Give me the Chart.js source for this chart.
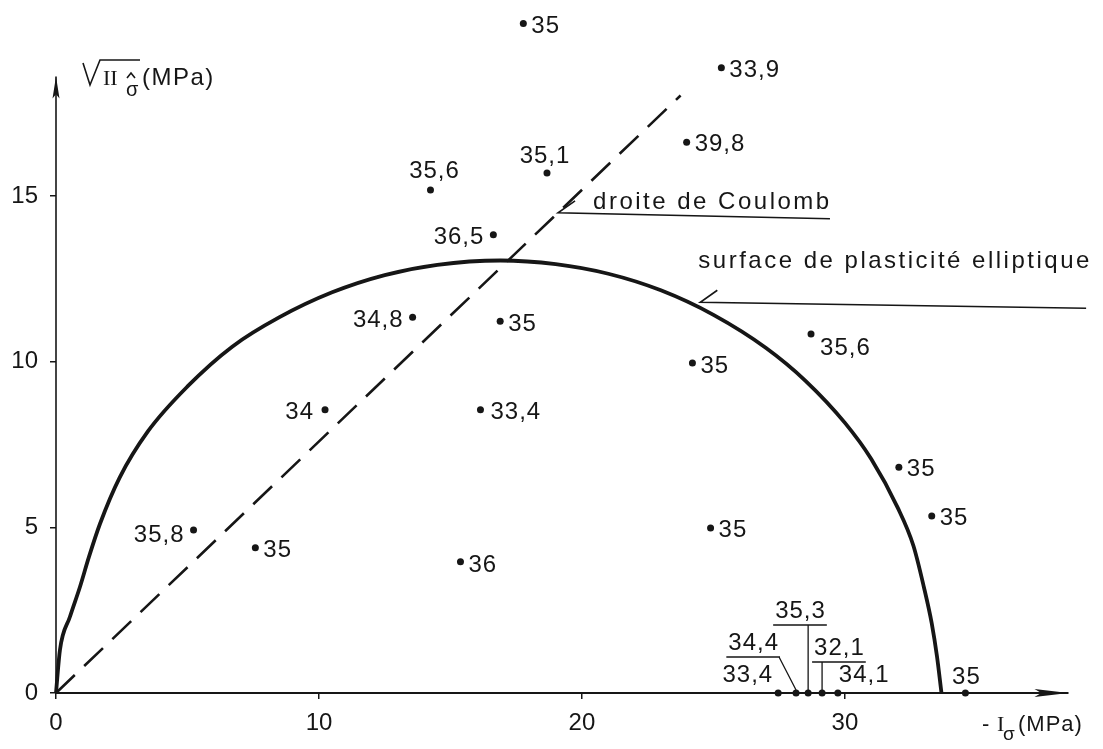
<!DOCTYPE html>
<html>
<head>
<meta charset="utf-8">
<script src="https://cdn.jsdelivr.net/npm/chart.js@4.4.1/dist/chart.umd.min.js"></script>
<style>
  html, body { margin: 0; padding: 0; background: #fff; }
  #wrap { width: 1103px; height: 749px; position: relative; }
</style>
</head>
<body>
<div id="wrap"><canvas id="chart"></canvas></div>
<script>
// essais : position (-I, sqrt II) en MPa et angle de frottement noté à côté
const testI = [17.77, 25.3, 23.98, 18.67, 14.24, 16.63, 13.56, 16.89, 10.23, 16.14, 24.2, 28.71,
               32.05, 33.3, 24.89, 15.38, 7.58, 5.23, 27.46, 28.14, 28.6, 29.13, 29.73, 34.58];
const testII = [20.2, 18.87, 16.62, 15.69, 15.18, 13.83, 11.34, 11.22, 8.55, 8.55, 9.96, 10.83,
                6.81, 5.34, 4.98, 3.96, 4.38, 4.92, 0, 0, 0, 0, 0, 0];
const testPhi = ['35', '33,9', '39,8', '35,1', '35,6', '36,5', '34,8', '35', '34', '33,4', '35', '35,6',
                 '35', '35', '35', '36', '35', '35,8', '33,4', '34,4', '35,3', '32,1', '34,1', '35'];

// surface de plasticité elliptique
const ellipseI = [0, 0.15, 0.53, 0.91, 1.25, 1.67, 2.42, 3.5, 5, 6.7, 8.5, 10.5, 12.5, 14.5, 16.9,
                  19, 21, 23, 25, 27, 28.5, 30, 31, 32, 32.6, 33.0, 33.3, 33.5, 33.67];
const ellipseII = [0, 1.3, 2.3, 3.2, 4.1, 5.1, 6.5, 7.9, 9.25, 10.45, 11.34, 12.09, 12.61, 12.92, 13.05,
                   12.94, 12.65, 12.15, 11.41, 10.41, 9.42, 8.15, 7.06, 5.6, 4.45, 3.2, 2.1, 1.1, 0];

// droite de Coulomb
const coulombI = [0, 23.75];
const coulombII = [0, 18.03];

// axes and ticks
const axisIEnd = 38.5;
const axisIIEnd = 18.6;
const xTicks = [0, 10, 20, 30];
const yTicks = [0, 5, 10, 15];

// notes with arrows
const noteText = ['droite de Coulomb', 'surface de plasticité elliptique'];
const noteTipI = [19.09, 24.5];
const noteTipII = [14.49, 11.79];
const noteEndI = [29.43, 39.17];
const noteEndII = [14.31, 11.61];

// label placement next to each point: dx, dy (px), align, leader line
const labelPlace = [
    [8, 9, 'left'], [8, 9, 'left'], [8, 9, 'left'], [-2, -10, 'center'], [4, -12, 'center'],
    [-9, 9, 'right'], [-9, 10, 'right'], [8, 10, 'left'], [-11, 9, 'right'], [10, 9, 'left'],
    [8, 10, 'left'], [9, 21, 'left'], [8, 9, 'left'], [8, 9, 'left'], [8, 9, 'left'],
    [8, 10, 'left'], [8, 9, 'left'], [-9, 12, 'right'],
    [-5, -11, 'right'], [-17, -43, 'right', true], [-33, -75, 'left', true], [-8, -38, 'left', true],
    [1, -11, 'left'], [1, -9, 'center']
];
const noteDx = [35, -2];
const noteDy = [-4, -34];

const ink = '#161616';
const sans = '"Liberation Sans", Arial, sans-serif';
const serif = '"Liberation Serif", "Times New Roman", serif';

const toXY = (xs, ys) => xs.map((x, i) => ({ x, y: ys[i] }));

const annotate = {
    id: 'annotate',
    afterDatasetsDraw(chart) {
        const ctx = chart.ctx;
        const xs = chart.scales.x;
        const ys = chart.scales.y;
        const area = chart.chartArea;
        ctx.save();
        ctx.fillStyle = ink;
        ctx.strokeStyle = ink;

        // arrow heads on axes
        chart.data.datasets.forEach((ds, di) => {
            if (!ds.arrowHead) return;
            const pts = chart.getDatasetMeta(di).data;
            const a = pts[pts.length - 2], b = pts[pts.length - 1];
            const ang = Math.atan2(b.y - a.y, b.x - a.x);
            const len = ds.arrowHead[0], half = ds.arrowHead[1];
            ctx.save();
            ctx.translate(b.x, b.y);
            ctx.rotate(ang);
            ctx.beginPath();
            ctx.moveTo(0, 0);
            ctx.lineTo(-len, -half);
            ctx.lineTo(-len * 0.8, 0);
            ctx.lineTo(-len, half);
            ctx.closePath();
            ctx.fill();
            ctx.restore();
        });

        // point labels
        ctx.font = '24px ' + sans;
        ctx.letterSpacing = '1px';
        ctx.textBaseline = 'alphabetic';
        const meta = chart.getDatasetMeta(chart.data.datasets.length - 1);
        meta.data.forEach((p, i) => {
            const [dx, dy, align, lead] = labelPlace[i];
            ctx.textAlign = align;
            const tx = p.x + dx, ty = p.y + dy;
            ctx.fillText(testPhi[i], tx, ty);
            if (lead) {
                const w = ctx.measureText(testPhi[i]).width;
                const left = align === 'right' ? tx - w : (align === 'center' ? tx - w / 2 : tx);
                const uy = ty + 7;
                const sx = Math.min(Math.max(p.x, left), left + w);
                ctx.lineWidth = 1.3;
                ctx.beginPath();
                ctx.moveTo(left - 2, uy);
                ctx.lineTo(left + w + 1, uy);
                ctx.moveTo(sx, uy);
                ctx.lineTo(p.x, p.y - 3);
                ctx.stroke();
            }
        });

        // notes
        noteText.forEach((txt, i) => {
            const tx = xs.getPixelForValue(noteTipI[i]);
            const ty = ys.getPixelForValue(noteTipII[i]);
            const ex = xs.getPixelForValue(noteEndI[i]);
            const ey = ys.getPixelForValue(noteEndII[i]);
            ctx.lineWidth = 1.6;
            ctx.beginPath();
            ctx.moveTo(ex, ey);
            ctx.lineTo(tx, ty);
            ctx.lineTo(tx + 17, ty - 12);
            ctx.stroke();
            ctx.font = '24px ' + sans;
            ctx.letterSpacing = '2.5px';
            ctx.textAlign = 'left';
            ctx.fillText(txt, tx + noteDx[i], ty + noteDy[i]);
        });

        // y axis title: sqrt(II sigma^) (MPa)
        const L = area.left;
        ctx.letterSpacing = '0px';
        ctx.lineWidth = 1.6;
        ctx.beginPath();
        ctx.moveTo(L + 27, 63);
        ctx.lineTo(L + 34, 85);
        ctx.lineTo(L + 44, 60);
        ctx.lineTo(L + 84, 60);
        ctx.stroke();
        ctx.font = '22px ' + serif;
        ctx.fillText('II', L + 47, 85);
        ctx.font = '20px ' + sans;
        ctx.fillText('σ', L + 70, 96);
        ctx.beginPath();
        ctx.moveTo(L + 71, 78);
        ctx.lineTo(L + 75, 73);
        ctx.lineTo(L + 79, 78);
        ctx.stroke();
        ctx.font = '24px ' + sans;
        ctx.letterSpacing = '1.5px';
        ctx.fillText('(MPa)', L + 86, 85);

        // x axis title: - I sigma (MPa)
        ctx.letterSpacing = '0px';
        ctx.font = '22px ' + sans;
        ctx.fillText('-', 982, 731);
        ctx.font = '22px ' + serif;
        ctx.fillText('I', 997, 731);
        ctx.font = '19px ' + sans;
        ctx.fillText('σ', 1003, 740);
        ctx.font = '22px ' + sans;
        ctx.letterSpacing = '1px';
        ctx.fillText('(MPa)', 1018, 731);
        ctx.restore();
    }
};

const ctx = document.getElementById('chart').getContext('2d');
new Chart(ctx, {
    type: 'scatter',
    data: {
        datasets: [
            {
                type: 'line', data: toXY([0, axisIEnd], [0, 0]),
                borderColor: ink, borderWidth: 2, pointRadius: 0, clip: false, arrowHead: [34, 4]
            },
            {
                type: 'line', data: toXY([0, 0], [0, axisIIEnd]),
                borderColor: ink, borderWidth: 1.6, pointRadius: 0, clip: false, arrowHead: [22, 3.5]
            },
            {
                type: 'line', data: toXY(ellipseI, ellipseII),
                borderColor: ink, borderWidth: 3.8, pointRadius: 0, cubicInterpolationMode: 'monotone', clip: false
            },
            {
                type: 'line', data: toXY(coulombI, coulombII),
                borderColor: ink, borderWidth: 2.6, borderDash: [26, 13], pointRadius: 0, clip: false
            },
            {
                data: toXY(testI, testII),
                backgroundColor: ink, borderColor: ink, borderWidth: 0, pointRadius: 3.5, clip: false
            }
        ]
    },
    options: {
        responsive: true,
        maintainAspectRatio: false,
        animation: false,
        layout: { padding: 0 },
        plugins: {
            legend: { display: false },
            tooltip: { enabled: false }
        },
        scales: {
            x: {
                type: 'linear',
                min: 0,
                max: 39.66,
                afterFit: (s) => { s.height = 56; s.paddingLeft = 0; s.paddingRight = 0; },
                afterBuildTicks: (s) => { s.ticks = xTicks.map(v => ({ value: v })); },
                grid: { drawOnChartArea: false, drawTicks: true, tickLength: 6, color: ink, lineWidth: 1.5 },
                border: { display: false },
                ticks: { color: ink, font: { family: sans, size: 24 }, padding: 10, maxRotation: 0, autoSkip: false }
            },
            y: {
                type: 'linear',
                min: 0,
                max: 20.79,
                afterFit: (s) => { s.width = 56; s.paddingTop = 0; s.paddingBottom = 0; },
                afterBuildTicks: (s) => { s.ticks = yTicks.map(v => ({ value: v })); },
                grid: { drawOnChartArea: false, drawTicks: true, tickLength: 6, color: ink, lineWidth: 1.5 },
                border: { display: false },
                ticks: { color: ink, font: { family: sans, size: 24 }, padding: 12, autoSkip: false }
            }
        }
    },
    plugins: [annotate]
});
</script>
</body>
</html>
